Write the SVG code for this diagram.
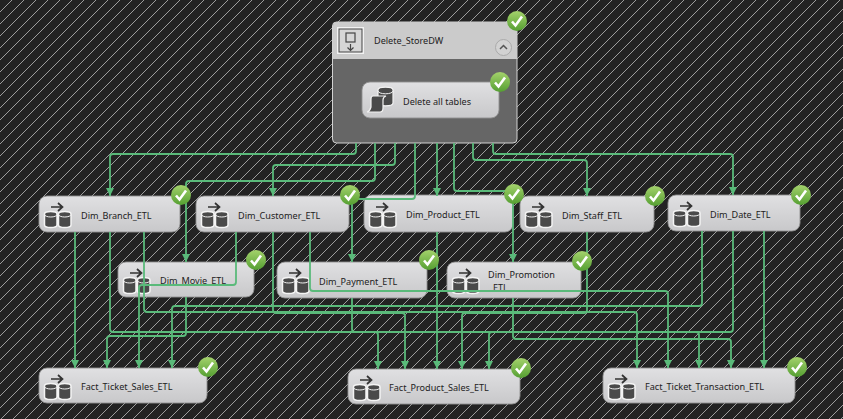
<svg xmlns="http://www.w3.org/2000/svg" width="843" height="419" viewBox="0 0 843 419">
<style>
.n{fill:url(#ng);stroke:#909090;stroke-width:.9}
text{font-family:"Noto Sans","Liberation Sans",sans-serif;font-size:9.1px;fill:#222}
.c{fill:none;stroke:#5aba7a;stroke-width:1.8;marker-end:url(#ah)}
</style>
<defs>
<pattern id="hatch" width="12" height="12" patternUnits="userSpaceOnUse">
<rect width="12" height="12" fill="#232323"/>
<path d="M-1 13L13 -1M-7 7L7 -7M5 19L19 5" stroke="#bdbdbd" stroke-width=".8" fill="none"/>
</pattern>
<linearGradient id="ng" x1="0" y1="0" x2="0" y2="1"><stop offset="0" stop-color="#e0e0e2"/><stop offset="1" stop-color="#c8c8ca"/></linearGradient>
<linearGradient id="gg" x1="0" y1="0" x2="0" y2="1"><stop offset="0" stop-color="#a4d26c"/><stop offset="1" stop-color="#559f32"/></linearGradient>
<marker id="ah" markerUnits="userSpaceOnUse" markerWidth="9" markerHeight="9" refX="8" refY="4" orient="auto"><path d="M0 0L8 4L0 8Z" fill="#5aba7a"/></marker>
<g id="ck"><circle r="10" fill="url(#gg)"/><path d="M-5 0.5L-1.500 4.500L5 -4.500" fill="none" stroke="#fff" stroke-width="2.600"/></g>
<g id="etl">
<path d="M5.500 18a6.250 2.500 0 0 1 12.500 0V29a6.250 2.500 0 0 1-12.500 0ZM19.500 18a6.250 2.500 0 0 1 12.500 0V29a6.250 2.500 0 0 1-12.500 0Z" fill="#4a4a4a" stroke="#f4f4f4" stroke-width="1.500"/>
<path d="M5.500 18.500a6.250 2.500 0 0 0 12.500 0M19.500 18.500a6.250 2.500 0 0 0 12.500 0" fill="none" stroke="#f0f0f0" stroke-width="1"/>
<path d="M12 11H23M19 7L23.500 11L19 15" fill="none" stroke="#333" stroke-width="1.700"/>
</g>
</defs>
<rect width="843" height="419" fill="url(#hatch)"/>

<g id="Delete_StoreDW">
<rect x="332.500" y="22" width="184.500" height="121" rx="4" fill="#666" stroke="#d2d2d2" stroke-width="1"/>
<path d="M333 59V26a4 4 0 0 1 4-4H513a4 4 0 0 1 4 4V59Z" fill="#cbcbcb"/>
<rect x="337" y="27" width="27" height="27" fill="#f2f2f2"/>
<rect x="339" y="29" width="23" height="23" fill="#d6d6d6" stroke="#444" stroke-width="1"/>
<rect x="346" y="33" width="9" height="9" fill="none" stroke="#444" stroke-width="1.200"/>
<path d="M350.500 44V50M347.500 47.500L350.500 50.500L353.500 47.500" fill="none" stroke="#444" stroke-width="1.200"/>
<circle cx="503.500" cy="47.500" r="8" fill="#d2d2d2" stroke="#aaa"/>
<path d="M500 49L503.500 45.500L507 49" fill="none" stroke="#555" stroke-width="1.500"/>
<text x="374" y="44">Delete_StoreDW</text>
</g>

<g id="Delete_all_tables">
<rect class="n" x="362" y="82" width="137" height="36" rx="8"/>
<path d="M378 90a7.500 2.800 0 0 1 15 0V103a7.500 2.800 0 0 1-15 0Z" fill="#4a4a4a" stroke="#f2f2f2" stroke-width="1.200"/>
<path d="M378 91a7.500 2.800 0 0 0 15 0" fill="none" stroke="#f2f2f2"/>
<path d="M373 96H386Q383 97 383 100V108Q383 112 380 112H367Q370 111 371 107V99Q371 96 373 96Z" fill="#4a4a4a" stroke="#f2f2f2" stroke-width="1.200"/>
<text x="403" y="104.500">Delete all tables</text>
</g>

<g id="Dim_Branch_ETL"><rect class="n" x="39" y="196" width="141" height="36" rx="8"/><use href="#etl" x="39" y="196"/><text x="81" y="218.500">Dim_Branch_ETL</text></g>
<g id="Dim_Customer_ETL"><rect class="n" x="196" y="196" width="153" height="36" rx="8"/><use href="#etl" x="196" y="196"/><text x="238" y="218.500">Dim_Customer_ETL</text></g>
<g id="Dim_Product_ETL"><rect class="n" x="364" y="195" width="149" height="37" rx="8"/><use href="#etl" x="364" y="196"/><text x="406" y="218">Dim_Product_ETL</text></g>
<g id="Dim_Staff_ETL"><rect class="n" x="520" y="196" width="134" height="36" rx="8"/><use href="#etl" x="520" y="196"/><text x="562" y="218.500">Dim_Staff_ETL</text></g>
<g id="Dim_Date_ETL"><rect class="n" x="668" y="195" width="132" height="36" rx="8"/><use href="#etl" x="668" y="195"/><text x="710" y="217.500">Dim_Date_ETL</text></g>
<g id="Dim_Movie_ETL"><rect class="n" x="118" y="262" width="136" height="35" rx="8"/><use href="#etl" x="118" y="262"/><text x="160" y="284">Dim_Movie_ETL</text></g>
<g id="Dim_Payment_ETL"><rect class="n" x="277" y="262" width="150" height="36" rx="8"/><use href="#etl" x="277" y="262"/><text x="319" y="284.500">Dim_Payment_ETL</text></g>
<g id="Dim_Promotion_ETL"><rect class="n" x="447" y="262" width="134" height="36" rx="8"/><use href="#etl" x="447" y="262"/><text x="488" y="278">Dim_Promotion</text><text x="493" y="290.500">ETL</text></g>
<g id="Fact_Ticket_Sales_ETL"><rect class="n" x="39" y="368" width="168" height="35" rx="8"/><use href="#etl" x="39" y="368"/><text x="81" y="389.500">Fact_Ticket_Sales_ETL</text></g>
<g id="Fact_Product_Sales_ETL"><rect class="n" x="348" y="369" width="172" height="35" rx="8"/><use href="#etl" x="348" y="369"/><text x="389" y="390.500">Fact_Product_Sales_ETL</text></g>
<g id="Fact_Ticket_Transaction_ETL"><rect class="n" x="603" y="368" width="192" height="35" rx="8"/><use href="#etl" x="603" y="368"/><text x="645" y="389.500">Fact_Ticket_Transaction_ETL</text></g>

<g id="connectors">
<path class="c" d="M356 143V151Q356 154 353 154H113Q110 154 110 157V196"/>
<path class="c" d="M375 143V178Q375 181 372 181H189Q186 181 186 184V262"/>
<path class="c" d="M395 143V162Q395 165 392 165H276Q273 165 273 168V196"/>
<path class="c" d="M415 143V196Q415 199 412 199H352V262"/>
<path class="c" d="M437 143V196"/>
<path class="c" d="M454 143V188Q454 191 457 191H513V262"/>
<path class="c" d="M473 143V157Q473 160 476 160H584Q587 160 587 163V196"/>
<path class="c" d="M493 143V151Q493 154 496 154H730Q733 154 733 157V195"/>
<path class="c" d="M75 232V368"/>
<path class="c" d="M110 232V329Q110 332 113 332H375Q378 332 378 335V369"/>
<path class="c" d="M144 232V309Q144 312 147 312H634Q637 312 637 315V368"/>
<path class="c" d="M236 232V282Q236 285 233 285H142Q139 285 139 288V368"/>
<path class="c" d="M273 232V310Q273 313 276 313H402Q405 313 405 316V369"/>
<path class="c" d="M310 232V288Q310 291 313 291H665Q668 291 668 294V368"/>
<path class="c" d="M186 297V333Q186 336 183 336H110Q107 336 107 339V368"/>
<path class="c" d="M352 298V329Q352 332 355 332H696Q699 332 699 335V368"/>
<path class="c" d="M513 298V336Q513 339 516 339H728Q731 339 731 342V368"/>
<path class="c" d="M437 232V369"/>
<path class="c" d="M587 232V310Q587 313 584 313H465Q462 313 462 316V369"/>
<path class="c" d="M702 231V303Q702 306 699 306H175Q172 306 172 309V368"/>
<path class="c" d="M733 231V329Q733 332 730 332H492Q489 332 489 335V369"/>
<path class="c" d="M764 231V368"/>
</g>

<g id="status">
<use href="#ck" x="517" y="21"/><use href="#ck" x="500" y="82"/>
<use href="#ck" x="181" y="195"/><use href="#ck" x="350" y="195"/><use href="#ck" x="514" y="194"/><use href="#ck" x="655" y="196"/><use href="#ck" x="801" y="195"/>
<use href="#ck" x="256" y="260"/><use href="#ck" x="429" y="260"/><use href="#ck" x="582" y="261"/>
<use href="#ck" x="208" y="367"/><use href="#ck" x="521" y="368"/><use href="#ck" x="797" y="367"/>
</g>
</svg>
